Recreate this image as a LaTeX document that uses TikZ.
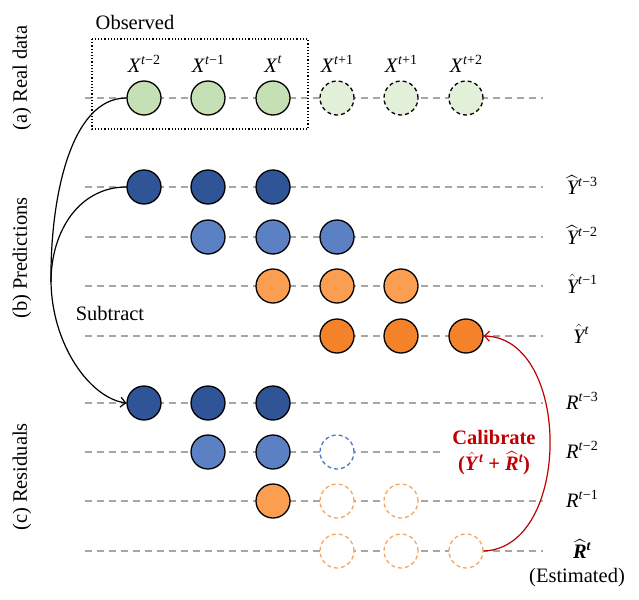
\documentclass[tikz,border=0pt]{standalone}
\usepackage{amsmath}
\usepackage{bm}
\usepackage{fontspec}
\setmainfont{Liberation Serif}
\usetikzlibrary{arrows.meta}
\definecolor{gfill}{HTML}{C5E0B4}
\definecolor{gfilllt}{HTML}{E2F0D9}
\definecolor{dblue}{HTML}{2F5597}
\definecolor{mblue}{HTML}{5B81C4}
\definecolor{lorange}{HTML}{FB9E52}
\definecolor{dorange}{HTML}{F4822A}
\definecolor{oline}{HTML}{F6A660}
\definecolor{bline}{HTML}{4A78C8}
\definecolor{gline}{HTML}{A6A6A6}
\definecolor{calred}{HTML}{C00000}
\newcommand\suplab[2]{#1\raisebox{0.42em}{\fontsize{14}{14}\selectfont\textit{t}#2}}
\newcommand\bsuplab[2]{#1\raisebox{0.42em}{\fontsize{14}{14}\selectfont\textbf{\textit{t}}#2}}
\begin{document}
\begin{tikzpicture}[x=1pt,y=-1pt,
  font=\fontsize{20.5}{23}\selectfont,
  dot/.style={circle, minimum size=34pt, inner sep=0pt, draw=black, line width=1.3pt},
  ghost/.style={dot, dashed, dash pattern=on 4pt off 3pt},
  guide/.style={draw=gline, line width=1.8pt, dash pattern=on 7pt off 5pt},
  lbl/.style={inner sep=0pt},
  sidelbl/.style={rotate=90, inner sep=0pt},
  conn/.style={line width=1.2pt, -{Straight Barb[length=5pt,width=10pt]}}]
\useasboundingbox (0,0) rectangle (639,599);
% guide lines
\foreach \y in {98,187,237,286,336,403,501,551} \draw[guide] (85,\y) -- (543,\y);
\draw[guide] (85,452) -- (443,452);
% observed box
\draw[line width=1.2pt, dotted] (92,39) rectangle (308,129);
\node[lbl] (obs) at (135,22) {Observed};
% row a
\node[dot, fill=gfill] (a1) at (144,98) {};
\node[dot, fill=gfill] (a2) at (208,98) {};
\node[dot, fill=gfill] (a3) at (273,98) {};
\node[ghost, fill=gfilllt] (a4) at (337,98) {};
\node[ghost, fill=gfilllt] (a5) at (401,98) {};
\node[ghost, fill=gfilllt] (a6) at (466,98) {};
\node[lbl] (xa1) at (144,64) {\suplab{\textit{X}}{−2}};
\node[lbl] (xa2) at (208,64) {\suplab{\textit{X}}{−1}};
\node[lbl] (xa3) at (273,64) {\suplab{\textit{X}}{}};
\node[lbl] (xa4) at (337,64) {\suplab{\textit{X}}{+1}};
\node[lbl] (xa5) at (401,64) {\suplab{\textit{X}}{+1}};
\node[lbl] (xa6) at (466,64) {\suplab{\textit{X}}{+2}};
% row b
\node[dot, fill=dblue] (b11) at (144,187) {};
\node[dot, fill=dblue] (b12) at (208,187) {};
\node[dot, fill=dblue] (b13) at (273,187) {};
\node[dot, fill=mblue] (b22) at (208,237) {};
\node[dot, fill=mblue] (b23) at (273,237) {};
\node[dot, fill=mblue] (b24) at (337,237) {};
\node[dot, fill=lorange] (b33) at (273,286) {};
\node[dot, fill=lorange] (b34) at (337,286) {};
\node[dot, fill=lorange] (b35) at (401,286) {};
\node[dot, fill=dorange] (b44) at (337,336) {};
\node[dot, fill=dorange] (b45) at (401,336) {};
\node[dot, fill=dorange] (b46) at (466,336) {};
\node[lbl] (yb1) at (582,185) {\suplab{$\widehat{\textit{Y}}$}{−3}};
\node[lbl] (yb2) at (582,235) {\suplab{$\widehat{\textit{Y}}$}{−2}};
\node[lbl] (yb3) at (582,284) {\suplab{$\hat{\textit{Y}}$}{−1}};
\node[lbl] (yb4) at (581,334) {\suplab{$\hat{\textit{Y}}$}{}};
% row c
\node[dot, fill=dblue] (c11) at (144,403) {};
\node[dot, fill=dblue] (c12) at (208,403) {};
\node[dot, fill=dblue] (c13) at (273,403) {};
\node[dot, fill=mblue] (c22) at (208,452) {};
\node[dot, fill=mblue] (c23) at (273,452) {};
\node[ghost, draw=bline, fill=white] (c24) at (337,452) {};
\node[dot, fill=lorange] (c33) at (273,501) {};
\node[ghost, draw=oline, fill=white] (c34) at (337,501) {};
\node[ghost, draw=oline, fill=white] (c35) at (401,501) {};
\node[ghost, draw=oline, fill=white] (c44) at (337,551) {};
\node[ghost, draw=oline, fill=white] (c45) at (401,551) {};
\node[ghost, draw=oline, fill=white] (c46) at (466,551) {};
\node[lbl] (rc1) at (582,401) {\suplab{\textit{R}}{−3}};
\node[lbl] (rc2) at (582,450) {\suplab{\textit{R}}{−2}};
\node[lbl] (rc3) at (582,499) {\suplab{\textit{R}}{−1}};
\node[lbl] (rc4) at (582,549) {\bsuplab{$\bm{\widehat{\textbf{\textit{R}}}}$}{}};
\node[lbl] (est) at (577,578) {(Estimated)};
% side labels
\node[sidelbl] (sa) at (22,78) {(a) Real data};
\node[sidelbl] (sb) at (22,258) {(b) Predictions};
\node[sidelbl] (sc) at (22,477) {(c) Residuals};
% subtract curves
\coordinate (merge) at (51,282);
\node[lbl] (sub) at (110,313) {Subtract};
\draw[line width=1.2pt] (b11.west) .. controls (80,187) and (51,230) .. (merge);
\draw[conn] (a1.west) .. controls (70,98) and (50,200) .. (merge)
   .. controls (52,345) and (90,398) .. (c11.west);
% calibrate
\node[lbl, text=calred, align=center, font=\fontsize{20.5}{26}\selectfont\bfseries] (cal) at (494,453) {Calibrate\\(\bsuplab{$\bm{\hat{\textbf{\textit{Y}}}}$}{} + \bsuplab{$\bm{\widehat{\textbf{\textit{R}}}}$}{})};
\draw[conn, draw=calred] (c46.east) .. controls (572,548) and (572,338) .. (b46.east);
\end{tikzpicture}
\end{document}
